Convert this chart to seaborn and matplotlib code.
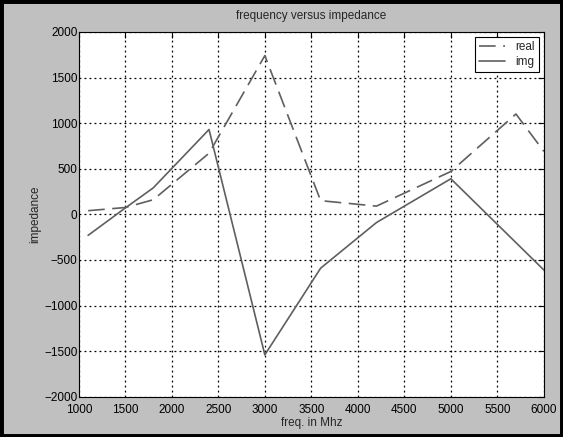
import numpy as np
import pandas as pd
import matplotlib.pyplot as plt
import seaborn as sns
from matplotlib.patches import Rectangle

# values
real_freq = [1100, 1500, 1800, 2400, 3000, 3600, 4200, 5000, 5700, 6000]
real = [40, 75, 160, 670, 1740, 150, 90, 470, 1100, 690]
img_freq = [1100, 1500, 1800, 2400, 3000, 3600, 4200, 5000, 6000]
img = [-230, 70, 290, 930, -1540, -590, -90, 390, -610]

df = pd.concat([
    pd.DataFrame({"freq": real_freq, "impedance": real, "part": "real"}),
    pd.DataFrame({"freq": img_freq, "impedance": img, "part": "img"}),
])

sns.set_style("white")
plt.rcParams["font.family"] = ["Liberation Sans", "DejaVu Sans"]

fig = plt.figure(figsize=(5.63, 4.37), dpi=100, facecolor="#c0c0c0")
ax = fig.add_axes([0.140, 0.092, 0.826, 0.835])
ax.set_facecolor("white")

sns.lineplot(data=df, x="freq", y="impedance", hue="part", style="part",
             palette={"real": "#5f5f5f", "img": "#5f5f5f"},
             dashes={"real": (10, 4.5), "img": ""}, linewidth=1.2, ax=ax,
             estimator=None, sort=False)

ax.set_xlim(1000, 6000)
ax.set_ylim(-2000, 2000)
ax.set_xticks(np.arange(1000, 6001, 500))
ax.set_yticks(np.arange(-2000, 2001, 500))
ax.grid(True, color="black", linestyle=(0, (1.5, 2.5)), linewidth=0.9)
ax.tick_params(direction="in", top=True, right=True, length=4, width=0.8,
               labelsize=8.5, colors="black")
ax.tick_params(axis="x", pad=5)
ax.tick_params(axis="y", pad=1)
for s in ax.spines.values():
    s.set_color("black")
    s.set_linewidth(0.8)

ax.set_xlabel("freq. in Mhz", fontsize=8.5, labelpad=1)
ax.set_ylabel("impedance", fontsize=8.5, labelpad=2)
ax.set_title("frequency versus impedance", fontsize=8.5, pad=9)

leg = ax.legend(loc="upper right", fontsize=8.5, handlelength=2.2,
                fancybox=False, framealpha=1, edgecolor="black",
                borderaxespad=0.4, labelspacing=0.2)
leg.get_frame().set_linewidth(0.8)

fig.patches.append(Rectangle((0, 0), 1, 1, transform=fig.transFigure,
                             fill=False, edgecolor="black", linewidth=5))

fig.savefig("out.png", dpi=100, facecolor=fig.get_facecolor())
